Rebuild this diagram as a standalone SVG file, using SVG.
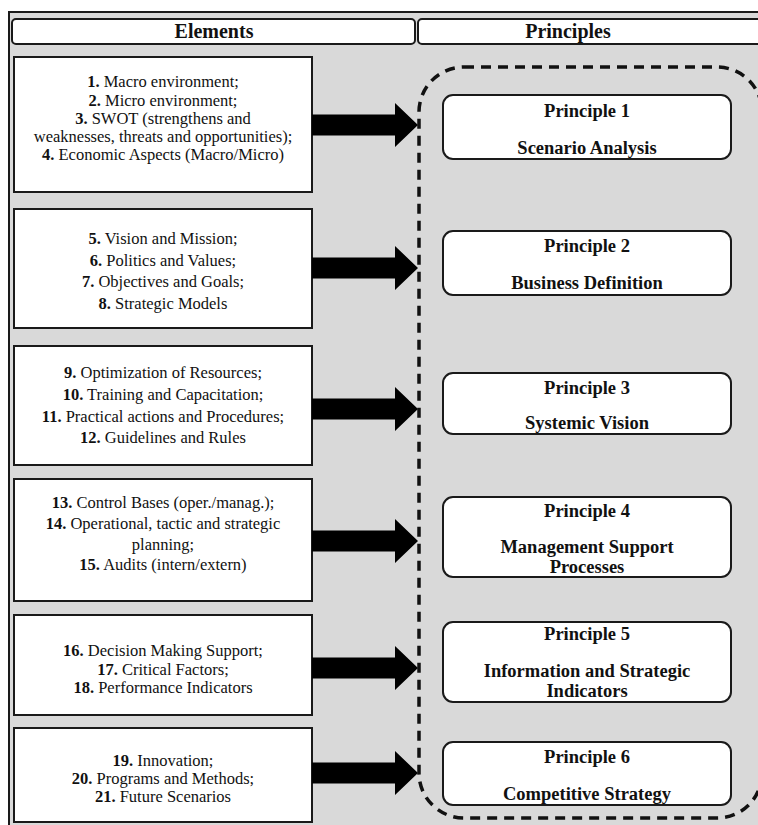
<svg xmlns="http://www.w3.org/2000/svg" width="758" height="825" viewBox="0 0 758 825">
<style>
.bg{fill:#d9d9d9;stroke:#1a1a1a;stroke-width:2}
.hdr{fill:#fff;stroke:#1a1a1a;stroke-width:2}
text{font-family:"Liberation Serif","Times New Roman","Noto Serif",serif;fill:#111;text-anchor:middle}
.hdrt{font-weight:bold;font-size:20px}
.el{fill:#fff;stroke:#1a1a1a;stroke-width:2}
.elt{font-size:16.5px}
.n{font-weight:bold}
.pr{fill:#fff;stroke:#1a1a1a;stroke-width:2}
.prt{font-weight:bold;font-size:18.5px}
.dash{fill:none;stroke:#111;stroke-width:3.5;stroke-dasharray:10 7}
.arr{fill:#000}
</style>
<rect class="bg" x="9" y="12" width="760" height="820"/>
<g id="header-elements"><rect class="hdr" x="12" y="19" width="403" height="25" rx="4"/><text class="hdrt" x="214" y="38">Elements</text></g>
<g id="header-principles"><rect class="hdr" x="418" y="19" width="350" height="25" rx="4"/><text class="hdrt" x="568" y="38">Principles</text></g>
<g id="group-boundary"><rect class="dash" x="419" y="67" width="343" height="751" rx="45"/></g>

<g id="element-1"><rect class="el" x="14" y="57" width="298" height="135"/>
<text class="elt"><tspan x="163" y="87"><tspan class="n">1.</tspan> Macro environment;</tspan><tspan x="163" y="106"><tspan class="n">2.</tspan> Micro environment;</tspan><tspan x="163" y="124"><tspan class="n">3.</tspan> SWOT (strengthens and</tspan><tspan x="163" y="142">weaknesses, threats and opportunities);</tspan><tspan x="163" y="160"><tspan class="n">4.</tspan> Economic Aspects (Macro/Micro)</tspan></text></g>
<g id="element-2"><rect class="el" x="14" y="209" width="298" height="119"/>
<text class="elt"><tspan x="163" y="244"><tspan class="n">5.</tspan> Vision and Mission;</tspan><tspan x="163" y="266"><tspan class="n">6.</tspan> Politics and Values;</tspan><tspan x="163" y="287"><tspan class="n">7.</tspan> Objectives and Goals;</tspan><tspan x="163" y="309"><tspan class="n">8.</tspan> Strategic Models</tspan></text></g>
<g id="element-3"><rect class="el" x="14" y="346" width="298" height="119"/>
<text class="elt"><tspan x="163" y="378"><tspan class="n">9.</tspan> Optimization of Resources;</tspan><tspan x="163" y="400"><tspan class="n">10.</tspan> Training and Capacitation;</tspan><tspan x="163" y="422"><tspan class="n">11.</tspan> Practical actions and Procedures;</tspan><tspan x="163" y="443"><tspan class="n">12.</tspan> Guidelines and Rules</tspan></text></g>
<g id="element-4"><rect class="el" x="14" y="479" width="298" height="122"/>
<text class="elt"><tspan x="163" y="508"><tspan class="n">13.</tspan> Control Bases (oper./manag.);</tspan><tspan x="163" y="529"><tspan class="n">14.</tspan> Operational, tactic and strategic</tspan><tspan x="163" y="550">planning;</tspan><tspan x="163" y="570"><tspan class="n">15.</tspan> Audits (intern/extern)</tspan></text></g>
<g id="element-5"><rect class="el" x="14" y="615" width="298" height="100"/>
<text class="elt"><tspan x="163" y="656"><tspan class="n">16.</tspan> Decision Making Support;</tspan><tspan x="163" y="675"><tspan class="n">17.</tspan> Critical Factors;</tspan><tspan x="163" y="693"><tspan class="n">18.</tspan> Performance Indicators</tspan></text></g>
<g id="element-6"><rect class="el" x="14" y="728" width="298" height="94"/>
<text class="elt"><tspan x="163" y="766"><tspan class="n">19.</tspan> Innovation;</tspan><tspan x="163" y="784"><tspan class="n">20.</tspan> Programs and Methods;</tspan><tspan x="163" y="802"><tspan class="n">21.</tspan> Future Scenarios</tspan></text></g>

<g id="principle-1"><rect class="pr" x="443" y="95" width="288" height="64" rx="10"/><text class="prt"><tspan x="587" y="117">Principle 1</tspan><tspan x="587" y="154">Scenario Analysis</tspan></text></g>
<g id="principle-2"><rect class="pr" x="443" y="231" width="288" height="64" rx="10"/><text class="prt"><tspan x="587" y="252">Principle 2</tspan><tspan x="587" y="289">Business Definition</tspan></text></g>
<g id="principle-3"><rect class="pr" x="443" y="373" width="288" height="61" rx="10"/><text class="prt"><tspan x="587" y="394">Principle 3</tspan><tspan x="587" y="429">Systemic Vision</tspan></text></g>
<g id="principle-4"><rect class="pr" x="443" y="497" width="288" height="80" rx="10"/><text class="prt"><tspan x="587" y="517">Principle 4</tspan><tspan x="587" y="553">Management Support</tspan><tspan x="587" y="573">Processes</tspan></text></g>
<g id="principle-5"><rect class="pr" x="443" y="622" width="288" height="80" rx="10"/><text class="prt"><tspan x="587" y="640">Principle 5</tspan><tspan x="587" y="677">Information and Strategic</tspan><tspan x="587" y="697">Indicators</tspan></text></g>
<g id="principle-6"><rect class="pr" x="443" y="742" width="288" height="63" rx="10"/><text class="prt"><tspan x="587" y="763">Principle 6</tspan><tspan x="587" y="800">Competitive Strategy</tspan></text></g>

<g id="connectors">
<polygon class="arr" points="312,114.5 395,114.5 395,103 418,125 395,147 395,135.5 312,135.5"/>
<polygon class="arr" points="312,257.5 395,257.5 395,246 418,268 395,290 395,278.5 312,278.5"/>
<polygon class="arr" points="312,398.5 395,398.5 395,387 418,409 395,431 395,419.5 312,419.5"/>
<polygon class="arr" points="312,530.5 395,530.5 395,519 418,541 395,563 395,551.5 312,551.5"/>
<polygon class="arr" points="312,657.5 395,657.5 395,646 418,668 395,690 395,678.5 312,678.5"/>
<polygon class="arr" points="312,762.5 395,762.5 395,751 418,773 395,795 395,783.5 312,783.5"/>
</g>
</svg>
